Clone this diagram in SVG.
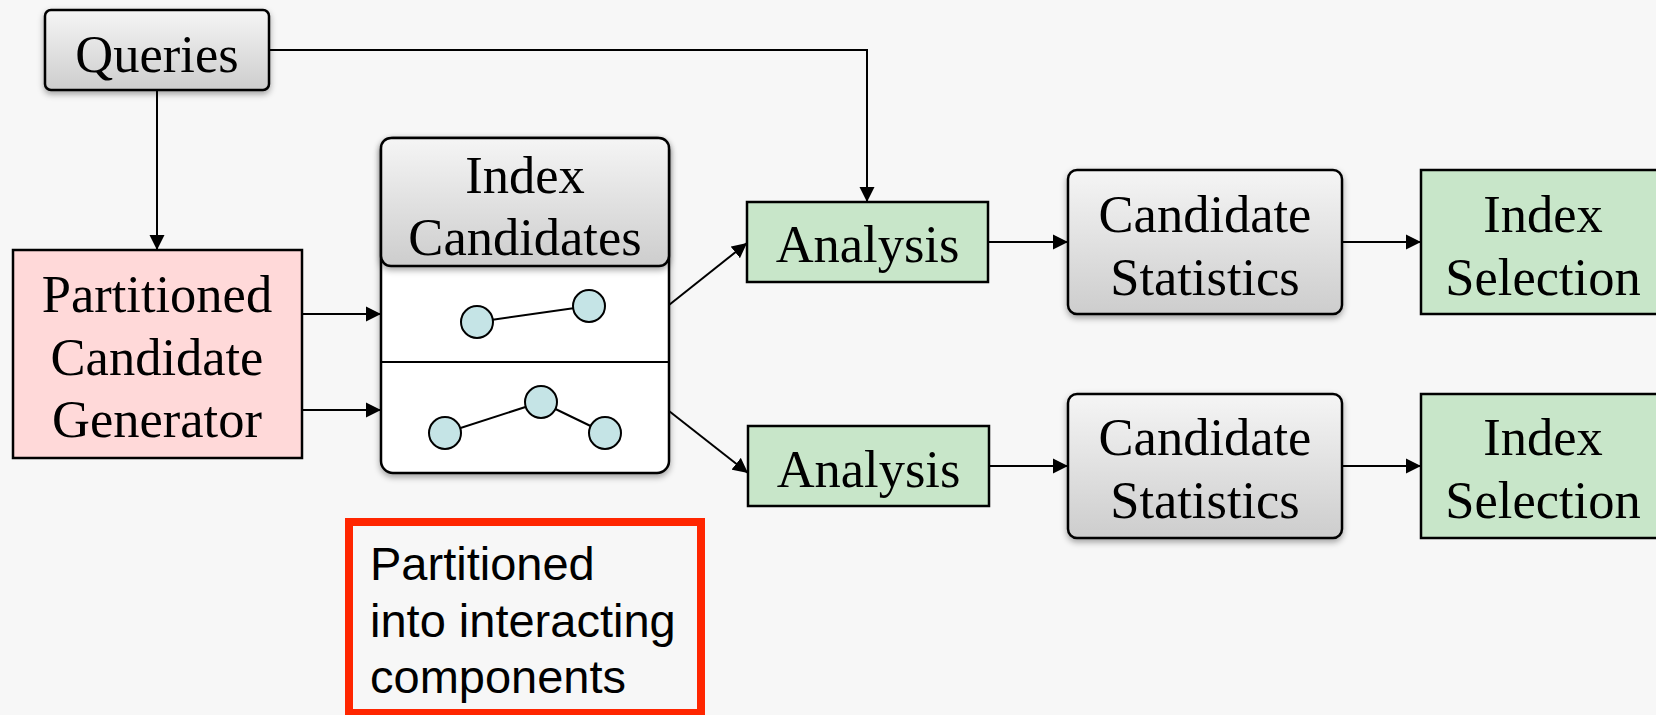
<svg xmlns="http://www.w3.org/2000/svg" width="1656" height="715" viewBox="0 0 1656 715">
  <defs>
    <linearGradient id="grayFill" x1="0" y1="0" x2="0" y2="1">
      <stop offset="0" stop-color="#f5f5f5"/>
      <stop offset="1" stop-color="#cdcdcd"/>
    </linearGradient>
    <filter id="shadow" x="-10%" y="-10%" width="120%" height="130%">
      <feDropShadow dx="0" dy="3" stdDeviation="3" flood-color="#000" flood-opacity="0.35"/>
    </filter>
    <marker id="arrow" markerUnits="userSpaceOnUse" markerWidth="16" markerHeight="16" refX="15" refY="8" orient="auto">
      <path d="M0,0.5 L15,8 L0,15.5 z" fill="#000"/>
    </marker>
    <style>
      .serif { font-family: "Liberation Serif", "Times New Roman", serif; font-size: 52.5px; fill: #000; text-anchor: middle; }
      .sans { font-family: "Liberation Sans", Arial, sans-serif; font-size: 47px; fill: #000; }
      .gray { fill: url(#grayFill); stroke: #000; stroke-width: 2.5; filter: url(#shadow); }
      .green { fill: #c8e6c9; stroke: #000; stroke-width: 2.5; }
      .pink { fill: #ffd9d9; stroke: #000; stroke-width: 2.5; }
      .dot { fill: #c5e4e6; stroke: #000; stroke-width: 2; }
      .link { fill: none; stroke: #000; stroke-width: 2; }
      .edge { fill: none; stroke: #000; stroke-width: 2; marker-end: url(#arrow); }
    </style>
  </defs>

  <rect width="1656" height="715" fill="#f7f7f7"/>

  <!-- connectors -->
  <g id="connectors">
    <path class="edge" d="M157,90 V250"/>
    <path class="edge" d="M269,50 H867 V202"/>
    <path class="edge" d="M302,314 H381"/>
    <path class="edge" d="M302,410 H381"/>
    <path class="edge" d="M669,305 L747,243"/>
    <path class="edge" d="M669,411 L748,473"/>
    <path class="edge" d="M988,242 H1068"/>
    <path class="edge" d="M989,466 H1068"/>
    <path class="edge" d="M1342,242 H1421"/>
    <path class="edge" d="M1342,466 H1421"/>
  </g>

  <g id="queries">
    <rect class="gray" x="45" y="10" width="224" height="80" rx="6"/>
    <text class="serif" x="157" y="72">Queries</text>
  </g>

  <g id="generator">
    <rect class="pink" x="13" y="250" width="289" height="208"/>
    <text class="serif" x="157" y="311.5">Partitioned</text>
    <text class="serif" x="157" y="374.5">Candidate</text>
    <text class="serif" x="157" y="436.5">Generator</text>
  </g>

  <g id="index-candidates">
    <rect x="381" y="138" width="288" height="335" rx="12" fill="#fff" stroke="#000" stroke-width="2.5" filter="url(#shadow)"/>
    <line class="link" x1="381" y1="362" x2="669" y2="362" stroke-width="2.5"/>
    <rect class="gray" x="381" y="138" width="288" height="128" rx="10"/>
    <text class="serif" x="525" y="193">Index</text>
    <text class="serif" x="525" y="255">Candidates</text>
    <!-- first component: two indexes -->
    <line class="link" x1="477" y1="322" x2="589" y2="306"/>
    <circle class="dot" cx="477" cy="322" r="16"/>
    <circle class="dot" cx="589" cy="306" r="16"/>
    <!-- second component: three indexes -->
    <line class="link" x1="445" y1="433" x2="541" y2="402"/>
    <line class="link" x1="541" y1="402" x2="605" y2="433"/>
    <circle class="dot" cx="445" cy="433" r="16"/>
    <circle class="dot" cx="541" cy="402" r="16"/>
    <circle class="dot" cx="605" cy="433" r="16"/>
  </g>

  <g id="analysis-1">
    <rect class="green" x="747" y="202" width="241" height="80"/>
    <text class="serif" x="867.5" y="262">Analysis</text>
  </g>

  <g id="analysis-2">
    <rect class="green" x="748" y="426" width="241" height="80"/>
    <text class="serif" x="868.5" y="487">Analysis</text>
  </g>

  <g id="statistics-1">
    <rect class="gray" x="1068" y="170" width="274" height="144" rx="9"/>
    <text class="serif" x="1205" y="232">Candidate</text>
    <text class="serif" x="1205" y="295">Statistics</text>
  </g>

  <g id="statistics-2">
    <rect class="gray" x="1068" y="394" width="274" height="144" rx="9"/>
    <text class="serif" x="1205" y="455">Candidate</text>
    <text class="serif" x="1205" y="518">Statistics</text>
  </g>

  <g id="selection-1">
    <rect class="green" x="1421" y="170" width="245" height="144"/>
    <text class="serif" x="1543" y="232">Index</text>
    <text class="serif" x="1543" y="295">Selection</text>
  </g>

  <g id="selection-2">
    <rect class="green" x="1421" y="394" width="245" height="144"/>
    <text class="serif" x="1543" y="455">Index</text>
    <text class="serif" x="1543" y="518">Selection</text>
  </g>

  <g id="note">
    <rect x="349" y="522" width="352" height="191" fill="none" stroke="#ff2600" stroke-width="8"/>
    <text class="sans" x="370" y="580">Partitioned</text>
    <text class="sans" x="370" y="637">into interacting</text>
    <text class="sans" x="370" y="693">components</text>
  </g>
</svg>
